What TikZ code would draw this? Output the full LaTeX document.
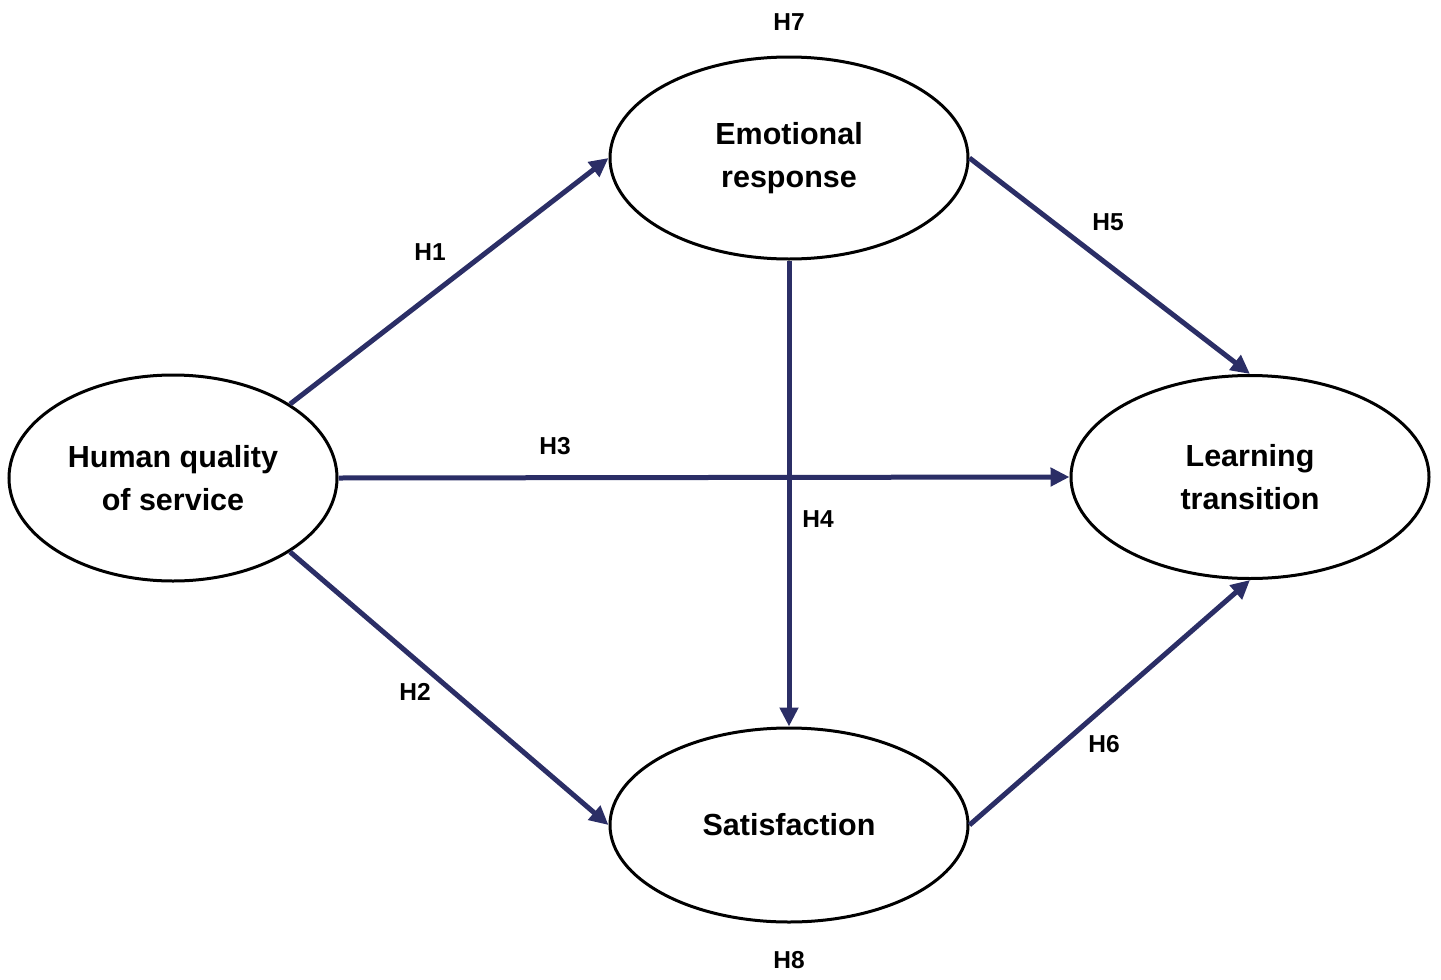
\documentclass[tikz,border=0pt]{standalone}
\usepackage{fontspec}
\setmainfont{Liberation Sans}
\usetikzlibrary{shapes.geometric,arrows.meta}
\definecolor{navy}{HTML}{2B2E66}
\tikzset{
  var/.style={ellipse, draw=black, line width=3pt, fill=white, inner sep=0pt, font=\bfseries\fontsize{30.5}{43}\selectfont, align=center},
  path/.style={draw=navy, line width=5pt, -{Triangle[length=19pt,width=18pt]}},
  hlab/.style={font=\bfseries\fontsize{24.5}{30}\selectfont, text=black}
}
\begin{document}
\begin{tikzpicture}[x=1pt,y=-1pt]
\useasboundingbox (0,0) rectangle (1441,980);
\node[var, minimum width=328pt, minimum height=206pt] (hq) at (173,478) {Human quality\\of service};
\node[var, minimum width=358pt, minimum height=202pt] (er) at (789,158) {Emotional\\response};
\node[var, minimum width=358pt, minimum height=203pt] (lt) at (1250,477) {Learning\\transition};
\node[var, minimum width=358pt, minimum height=194pt] (sa) at (789,825) {Satisfaction};
\draw[path] (hq.north east) -- (er.west);
\draw[path] (hq.south east) -- (sa.west);
\draw[path] (hq.east) -- (lt.west);
\draw[path] (er.south) -- (sa.north);
\draw[path] (er.east) -- (lt.north);
\draw[path] (sa.east) -- (lt.south);
\node[hlab] (h1) at (430,252) {H1};
\node[hlab] (h2) at (415,692) {H2};
\node[hlab] (h3) at (555,446) {H3};
\node[hlab] (h4) at (818,519) {H4};
\node[hlab] (h5) at (1108,222) {H5};
\node[hlab] (h6) at (1104,744) {H6};
\node[hlab] (h7) at (789,22) {H7};
\node[hlab] (h8) at (789,960) {H8};
\end{tikzpicture}
\end{document}
